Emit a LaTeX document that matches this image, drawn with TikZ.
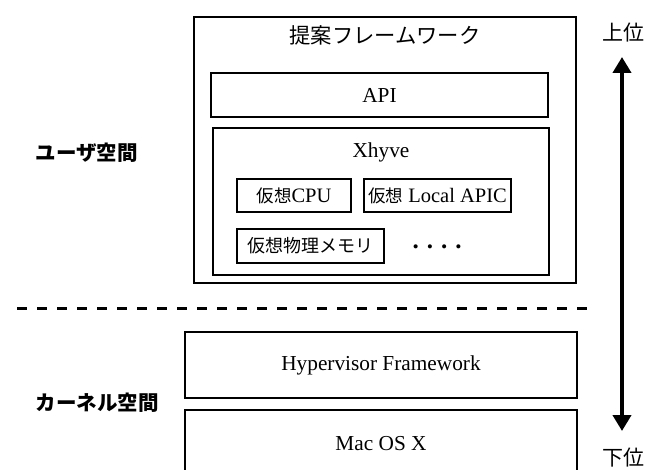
\documentclass[tikz,border=0pt]{standalone}
\usepackage{fontspec}
\setmainfont{Liberation Serif}
\newfontfamily\jp{Noto Sans CJK JP}
\newcommand{\jps}[1]{{\fontsize{17.5}{20}\selectfont\jp #1}}
\usetikzlibrary{arrows.meta}
\begin{document}
\begin{tikzpicture}[x=1pt,y=-1pt,
  font=\fontsize{21.3}{25}\selectfont,
  box/.style={draw, line width=1.7pt, inner sep=0pt, outer sep=0pt, anchor=center},
  small/.style={box, font=\fontsize{20.5}{24}\selectfont},
  side/.style={anchor=west, font=\fontsize{20.5}{24}\selectfont\jp\bfseries},
  bigarrow/.style={line width=4pt, >={Triangle[width=18pt,length=16pt]}, <->}]
\useasboundingbox (0,0) rectangle (659,470);
\begin{scope}
\clip (0,0) rectangle (659,470);
% boxes
\node[box, minimum width=382pt, minimum height=266pt] (outer) at (385,150) {};
\node (title) at (385,35) {\jp 提案フレームワーク};
\node[box, minimum width=337pt, minimum height=44pt] (api) at (379.5,95) {API};
\node[box, minimum width=336pt, minimum height=147pt] (xhyve) at (381,201.5) {};
\node (xtitle) at (381,152) {Xhyve};
\node[small, minimum width=114pt, minimum height=33pt] (cpu) at (294,195.5) {\jps{仮想}CPU};
\node[small, minimum width=147pt, minimum height=33pt] (lapic) at (437.5,195.5) {\jps{仮想} Local APIC};
\node[small, minimum width=147pt, minimum height=34pt] (mem) at (310.5,246) {\fontsize{18}{20}\selectfont\jp 仮想物理メモリ};
\node[font=\fontsize{25}{25}\selectfont] (dots) at (437,247) {\textbf{.\hspace{8pt}.\hspace{8pt}.\hspace{8pt}.}};
\node[box, minimum width=392pt, minimum height=66pt] (hv) at (381,365) {Hypervisor Framework};
\node[box, minimum width=392pt, minimum height=68pt] (mac) at (381,444) {Mac OS X};
% divider
\coordinate (dl) at (17,309);
\coordinate (dr) at (592,309);
\draw[line width=3pt, dash pattern=on 10pt off 10pt] (dl) -- (dr);
% side labels
\node[side] (user) at (32,153) {ユーザ空間};
\node[side] (kernel) at (32,403) {カーネル空間};
% arrow
\node[font=\fontsize{21}{25}\selectfont\jp] (up) at (623,33) {上位};
\node[font=\fontsize{21}{25}\selectfont\jp] (down) at (623,458) {下位};
\coordinate (atop) at (622,57);
\coordinate (abot) at (622,431);
\draw[bigarrow] (atop) -- (abot);
\end{scope}
\end{tikzpicture}
\end{document}
